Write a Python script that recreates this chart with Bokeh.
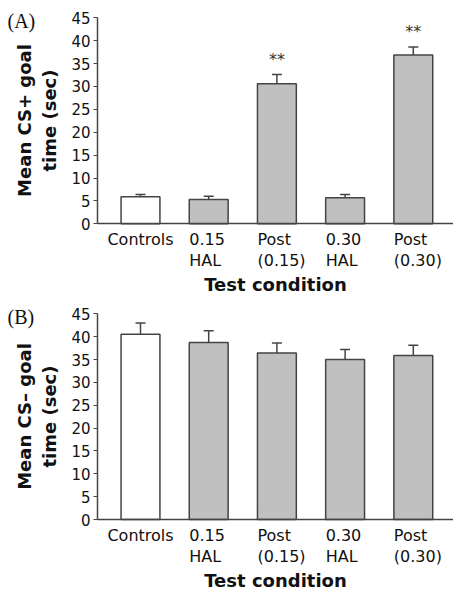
from bokeh.plotting import figure
from bokeh.models import Label, Whisker, TeeHead, ColumnDataSource, FixedTicker, Range1d
from bokeh.layouts import column
from bokeh.embed import file_html
from bokeh.resources import INLINE
from bokeh.core.properties import value

# ---- data ----
categories = ["Controls", "0.15\nHAL", "Post\n(0.15)", "0.30\nHAL", "Post\n(0.30)"]
label_align = ["center", "left", "left", "left", "left"]
bar_colors = ["#ffffff", "#c0c0c0", "#c0c0c0", "#c0c0c0", "#c0c0c0"]

cs_plus_mean = [5.9, 5.3, 30.6, 5.7, 36.9]
cs_plus_sem = [0.5, 0.7, 2.0, 0.7, 1.7]
cs_plus_sig = ["", "", "**", "", "**"]

cs_minus_mean = [40.5, 38.7, 36.4, 35.0, 35.9]
cs_minus_sem = [2.5, 2.6, 2.2, 2.2, 2.2]
cs_minus_sig = ["", "", "", "", ""]

y_ticks = [0, 5, 10, 15, 20, 25, 30, 35, 40, 45]
Y_MAX = 45

# ---- layout (pixels) ----
FIG_W = 453
PX_PER_CAT = 68.2      # horizontal pixels per category
FIRST_CENTER_PX = 140  # pixel x of first bar centre
YAXIS_PX = 97          # pixel x of the y axis line
BAR_W = 0.57
DARK = "#444444"
FONT = "DejaVu Sans"

X_LO = -FIRST_CENTER_PX / PX_PER_CAT
X_HI = X_LO + FIG_W / PX_PER_CAT
Y_AXIS_X = X_LO + YAXIS_PX / PX_PER_CAT


def make_panel(tag, ylabel, means, sems, sig, height, top_px, zero_px):
    ppu = (zero_px - top_px) / Y_MAX
    y_top = Y_MAX + top_px / ppu
    y_bot = -(height - zero_px) / ppu

    xs = list(range(len(categories)))
    src = ColumnDataSource(dict(
        x=xs, mean=means, upper=[m + s for m, s in zip(means, sems)],
        color=bar_colors, sig=sig))
    p = figure(width=FIG_W, height=height,
               x_range=Range1d(X_LO, X_HI), y_range=Range1d(y_bot, y_top),
               output_backend="svg", toolbar_location=None,
               min_border=0, min_border_left=0, min_border_right=0,
               min_border_top=0, min_border_bottom=0)
    p.outline_line_color = None
    p.xgrid.grid_line_color = None
    p.ygrid.grid_line_color = None
    p.background_fill_color = "white"
    p.border_fill_color = "white"

    p.vbar(x="x", top="mean", width=BAR_W, fill_color="color",
           line_color=DARK, line_width=1.5, source=src)
    w = Whisker(source=src, base="x", lower="mean", upper="upper",
                line_color=DARK, line_width=1.5,
                upper_head=TeeHead(size=10, line_color=DARK, line_width=1.5),
                lower_head=None)
    p.add_layout(w)
    p.text(x="x", y="upper", text="sig", source=src, text_align="center",
           text_baseline="bottom", y_offset=-6, text_font=value(FONT),
           text_font_size="16px", text_color="#333333")

    # y axis
    ya = p.yaxis[0]
    ya.fixed_location = Y_AXIS_X
    ya.bounds = (0, Y_MAX)
    ya.ticker = FixedTicker(ticks=y_ticks)
    ya.minor_tick_line_color = None
    ya.major_tick_in = 0
    ya.major_tick_out = 4
    ya.major_tick_line_color = DARK
    ya.axis_line_color = DARK
    ya.axis_line_width = 1.5
    ya.major_label_text_font = FONT
    ya.major_label_text_font_size = "15px"
    ya.major_label_text_color = "#111111"
    ya.major_label_standoff = 3
    ya.axis_label = ylabel
    ya.axis_label_text_font = FONT
    ya.axis_label_text_font_style = "bold"
    ya.axis_label_text_font_size = "18px"
    ya.axis_label_text_color = "#111111"
    ya.axis_label_standoff = 8

    # x axis
    xa = p.xaxis[0]
    xa.fixed_location = 0
    xa.bounds = (Y_AXIS_X, X_HI)
    xa.ticker = FixedTicker(ticks=[])
    xa.minor_tick_line_color = None
    xa.major_tick_line_color = None
    xa.major_tick_out = 0
    xa.major_tick_in = 0
    xa.axis_line_color = DARK
    xa.axis_line_width = 1.5
    xa.major_label_standoff = 0
    xa.axis_label = "Test condition"
    xa.axis_label_text_font = FONT
    xa.axis_label_text_font_style = "bold"
    xa.axis_label_text_font_size = "18px"
    xa.axis_label_text_color = "#111111"
    xa.axis_label_standoff = 50

    # category labels
    for i, (cat, al) in enumerate(zip(categories, label_align)):
        xx = i if al == "center" else i - BAR_W / 2
        p.add_layout(Label(x=xx, y=0, text=cat, text_align=al,
                           text_baseline="top", y_offset=-6,
                           text_font=FONT, text_font_size="16px",
                           text_color="#111111", text_line_height=1.12))

    # panel tag
    p.add_layout(Label(x=X_LO, y=Y_MAX, text=tag, x_offset=7, y_offset=-3,
                       text_baseline="middle", text_align="left",
                       text_font="Liberation Serif", text_font_size="20px",
                       text_color="#111111"))
    return p


pA = make_panel("(A)", "Mean CS+ goal\ntime (sec)", cs_plus_mean, cs_plus_sem,
                cs_plus_sig, 294, 17.3, 223.3)
pB = make_panel("(B)", "Mean CS\u2013 goal\ntime (sec)", cs_minus_mean, cs_minus_sem,
                cs_minus_sig, 297, 19.3, 225.0)

layout = column(pA, pB, spacing=0)
open("out.html", "w").write(file_html(layout, INLINE))
